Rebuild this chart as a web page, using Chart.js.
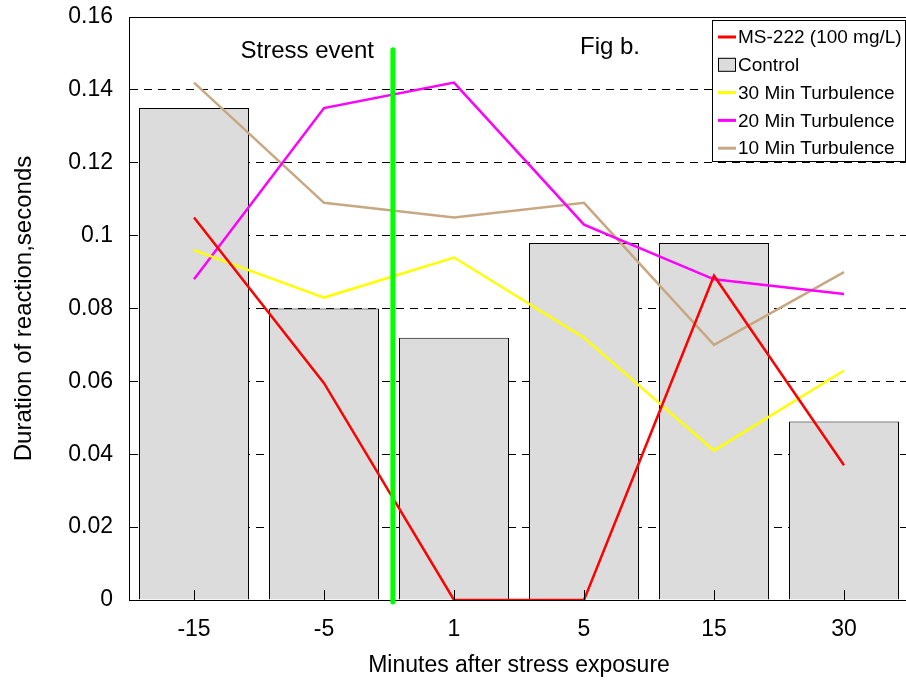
<!DOCTYPE html>
<html>
<head>
<meta charset="utf-8">
<script src="https://cdn.jsdelivr.net/npm/chart.js@4"></script>
<style>
  html, body { margin: 0; background: #fff; overflow: hidden; }
  canvas { display: block; }
</style>
</head>
<body>
<!-- the original plot frame runs a few pixels past the right edge of the picture -->
<canvas id="chart" width="909" height="683"></canvas>
<script>
// --- data ---
const categories = ['-15', '-5', '1', '5', '15', '30'];
const control = [0.135, 0.080, 0.072, 0.098, 0.098, 0.049];
const ms222 = [0.105, 0.0595, 0, 0, 0.089, 0.037];
const turb30 = [0.096, 0.083, 0.094, 0.072, 0.041, 0.063];
const turb20 = [0.088, 0.135, 0.142, 0.103, 0.088, 0.084];
const turb10 = [0.142, 0.109, 0.105, 0.109, 0.070, 0.090];
const yMin = 0, yMax = 0.16, yStep = 0.02;
// stress event marker (category index position, top value)
const stressEventX = 1.53;
const stressEventTop = 0.151;

const FONT = 'Arial, "Liberation Sans", sans-serif';

// frame, inner ticks, stress marker, text labels and legend box
const extras = {
    id: 'extras',
    afterDatasetsDraw(chart) {
        const { ctx, chartArea: a, scales: { x, y } } = chart;
        ctx.save();

        // inner tick marks on x axis
        ctx.strokeStyle = '#000';
        ctx.lineWidth = 1;
        x.ticks.forEach((t, i) => {
            const px = Math.round(x.getPixelForTick(i)) + 0.5;
            ctx.beginPath();
            ctx.moveTo(px, a.bottom);
            ctx.lineTo(px, a.bottom - 10);
            ctx.stroke();
        });

        // plot frame
        ctx.strokeRect(a.left + 0.5, a.top + 0.5, a.right - a.left - 1, a.bottom - a.top);

        // stress event line
        const gx = x.getPixelForValue(stressEventX);
        ctx.strokeStyle = '#00ff00';
        ctx.lineWidth = 5;
        ctx.lineCap = 'round';
        ctx.beginPath();
        ctx.moveTo(gx, y.getPixelForValue(stressEventTop));
        ctx.lineTo(gx, a.bottom + 2);
        ctx.stroke();

        // annotations
        ctx.fillStyle = '#000';
        ctx.font = '24px ' + FONT;
        ctx.textBaseline = 'middle';
        ctx.textAlign = 'right';
        ctx.fillText('Stress event', gx - 19, 51);
        ctx.textAlign = 'center';
        ctx.fillText('Fig b.', 610, 47);

        // legend box
        const lx = 712, ly = 20, lw = 194, lh = 141;
        ctx.fillStyle = '#fff';
        ctx.fillRect(lx, ly, lw, lh);
        ctx.strokeStyle = '#000';
        ctx.lineWidth = 1;
        ctx.lineCap = 'butt';
        ctx.strokeRect(lx + 0.5, ly + 0.5, lw - 1, lh);
        ctx.font = '19px ' + FONT;
        ctx.textAlign = 'left';
        chart.data.datasets.forEach((ds, i) => {
            const cy = 37 + i * 27.8;
            if (ds.type === 'bar') {
                ctx.fillStyle = ds.backgroundColor;
                ctx.fillRect(718, cy - 7, 18, 14);
                ctx.strokeStyle = '#000';
                ctx.strokeRect(718.5, cy - 6.5, 17, 13);
            } else {
                ctx.strokeStyle = ds.borderColor;
                ctx.lineWidth = 3;
                ctx.beginPath();
                ctx.moveTo(718, cy);
                ctx.lineTo(736, cy);
                ctx.stroke();
                ctx.lineWidth = 1;
            }
            ctx.fillStyle = '#000';
            ctx.fillText(ds.label, 738, cy + 1);
        });
        ctx.restore();
    }
};

new Chart(document.getElementById('chart'), {
    data: {
        labels: categories,
        datasets: [
            { type: 'line', label: 'MS-222 (100 mg/L)', data: ms222, borderColor: '#ff0000', borderWidth: 2.5, pointRadius: 0, tension: 0, order: 1 },
            { type: 'bar', label: 'Control', data: control, backgroundColor: '#dcdcdc', borderColor: '#000', borderWidth: 1, barPercentage: 0.846, categoryPercentage: 1, order: 2 },
            { type: 'line', label: '30 Min Turbulence', data: turb30, borderColor: '#ffff00', borderWidth: 2.5, pointRadius: 0, tension: 0, order: 1 },
            { type: 'line', label: '20 Min Turbulence', data: turb20, borderColor: '#ff00ff', borderWidth: 2.5, pointRadius: 0, tension: 0, order: 1 },
            { type: 'line', label: '10 Min Turbulence', data: turb10, borderColor: '#c8a882', borderWidth: 2.5, pointRadius: 0, tension: 0, order: 1 }
        ]
    },
    options: {
        responsive: false,
        animation: false,
        layout: { padding: { top: 17, right: 0, left: 0, bottom: 0 } },
        plugins: {
            legend: { display: false },
            tooltip: { enabled: false }
        },
        scales: {
            x: {
                grid: { display: false },
                border: { color: '#000', width: 1 },
                ticks: { color: '#000', font: { family: FONT, size: 23 }, padding: 8 },
                title: { display: true, text: 'Minutes after stress exposure', color: '#000', font: { family: FONT, size: 23 }, padding: { top: 4 } },
                afterFit: s => { s.height = 83; }
            },
            y: {
                min: yMin,
                max: yMax,
                grid: { color: '#000', lineWidth: 1, drawTicks: false },
                border: { color: '#000', width: 1, dash: [8, 6] },
                ticks: {
                    stepSize: yStep,
                    color: '#000',
                    font: { family: FONT, size: 23 },
                    padding: 16,
                    callback: v => String(+v.toFixed(2))
                },
                title: { display: true, text: 'Duration of reaction,seconds', color: '#000', font: { family: FONT, size: 24 }, padding: { top: 10, bottom: 0 } },
                afterFit: s => { s.width = 129; s.paddingTop = 0; s.paddingBottom = 0; }
            }
        }
    },
    plugins: [extras]
});
</script>
</body>
</html>
